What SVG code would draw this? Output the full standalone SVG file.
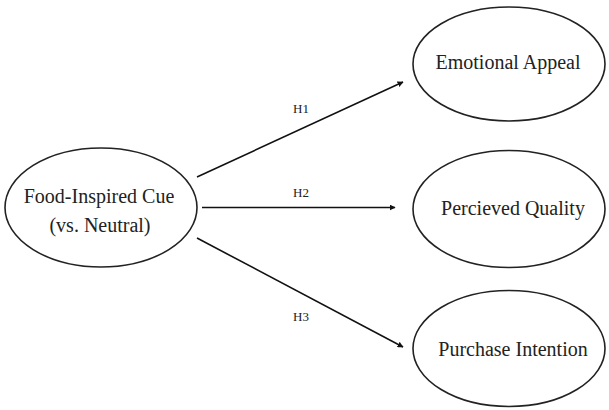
<svg xmlns="http://www.w3.org/2000/svg" width="609" height="410" viewBox="0 0 609 410">
<style>
.node ellipse{fill:#fff;stroke:#222;stroke-width:1.6}
.lbl{font-family:"Liberation Serif","Times New Roman",serif;font-size:20px;fill:#222;text-anchor:middle}
.hl{font-family:"Liberation Serif","Times New Roman",serif;font-size:13px;fill:#222;text-anchor:middle}
.edge{stroke:#111;stroke-width:1.6;fill:none;marker-end:url(#ah)}
</style>
<defs>
<marker id="ah" viewBox="0 0 10 10" refX="9" refY="5" markerWidth="6" markerHeight="6" markerUnits="userSpaceOnUse" orient="auto">
<path d="M0,0 L10,5 L0,10 Z" fill="#111"/>
</marker>
</defs>
<rect width="609" height="410" fill="#fff"/>
<g id="connectors">
<line class="edge" x1="197" y1="177" x2="403" y2="82"/>
<line class="edge" x1="202" y1="207.5" x2="395" y2="207.5"/>
<line class="edge" x1="197" y1="238" x2="403" y2="347"/>
<text class="hl" x="301" y="113">H1</text>
<text class="hl" x="301" y="197">H2</text>
<text class="hl" x="301" y="321">H3</text>
</g>
<g id="food-cue" class="node">
<ellipse cx="101" cy="207.5" rx="96" ry="59.5"/>
<text class="lbl" x="99" y="203">Food-Inspired Cue</text>
<text class="lbl" x="100" y="232">(vs. Neutral)</text>
</g>
<g id="emotional-appeal" class="node">
<ellipse cx="509" cy="64" rx="96" ry="57"/>
<text class="lbl" x="508" y="69">Emotional Appeal</text>
</g>
<g id="perceived-quality" class="node">
<ellipse cx="509" cy="209" rx="96" ry="58.5"/>
<text class="lbl" x="513" y="215">Percieved Quality</text>
</g>
<g id="purchase-intention" class="node">
<ellipse cx="509" cy="348.5" rx="96" ry="58"/>
<text class="lbl" x="513" y="356">Purchase Intention</text>
</g>
</svg>
